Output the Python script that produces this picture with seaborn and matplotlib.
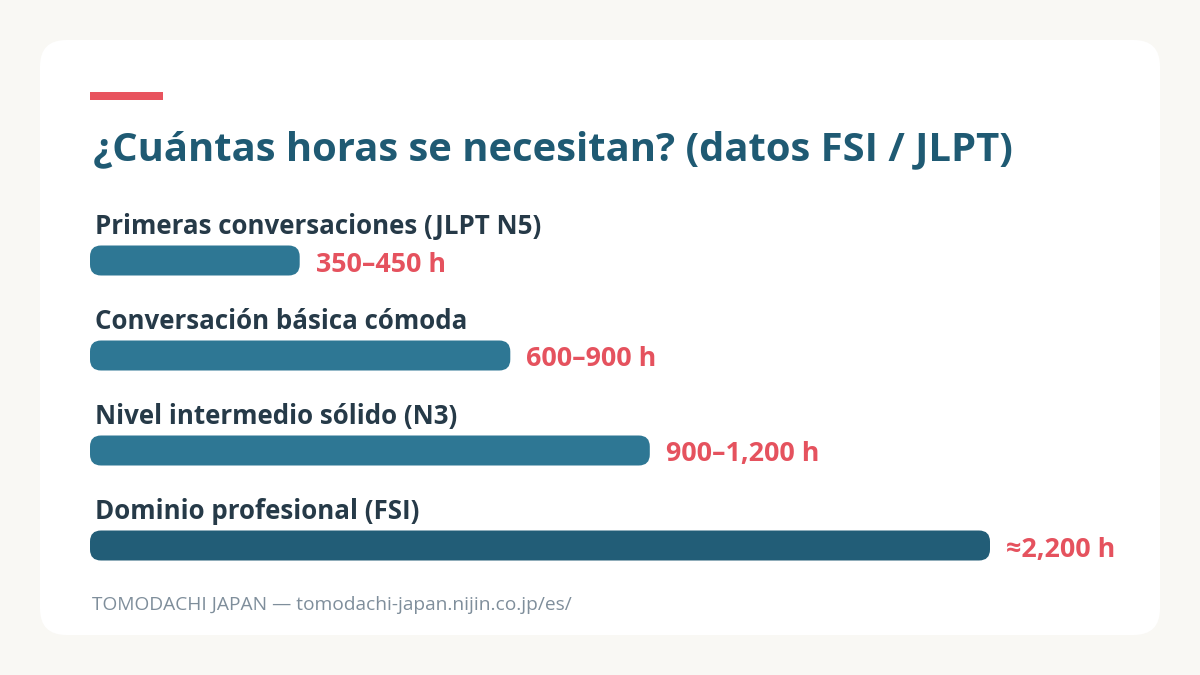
import matplotlib
matplotlib.use("Agg")
import matplotlib.pyplot as plt
from matplotlib.patches import FancyBboxPatch, Rectangle
import seaborn as sns
import pandas as pd

# ---- data ----
categories = [
    "Primeras conversaciones (JLPT N5)",
    "Conversación básica cómoda",
    "Nivel intermedio sólido (N3)",
    "Dominio profesional (FSI)",
]
value_labels = ["350–450 h", "600–900 h", "900–1,200 h", "≈2,200 h"]
bar_pct = [23.3, 46.7, 62.2, 100.0]   # bar length as % of the track
bar_colors = ["#2e7794", "#2e7794", "#2e7794", "#225d77"]
title = "¿Cuántas horas se necesitan? (datos FSI / JLPT)"
footer = "TOMODACHI JAPAN — tomodachi-japan.nijin.co.jp/es/"

W, H = 1200, 675
sns.set_theme(style="white")
plt.rcParams["font.family"] = ["Open Sans", "DejaVu Sans"]

fig = plt.figure(figsize=(W / 100, H / 100), dpi=100)
fig.patch.set_facecolor("#f9f8f4")

def fx(px):
    return px / W

def fy(py):
    return 1 - py / H

# white card
card = FancyBboxPatch((fx(40), fy(635)), fx(1120), 595 / H,
                      boxstyle="round,pad=0,rounding_size=0.022",
                      mutation_aspect=W / H,
                      transform=fig.transFigure, facecolor="white",
                      edgecolor="none", zorder=-5)
fig.patches.append(card)

# red accent
fig.patches.append(Rectangle((fx(90), fy(100)), fx(73), 8 / H,
                             transform=fig.transFigure, facecolor="#e8535e",
                             edgecolor="none", zorder=-4))

fig.text(fx(93), fy(150), title, fontsize=28.8, fontweight="bold",
         color="#1f5a73", va="center", ha="left")
fig.text(fx(92), fy(605), footer, fontsize=13.8, color="#7f8e9b",
         va="center", ha="left")

# axes: x 0..100 spans 90..990 px, category rows 95 px apart
row_px = 95
top_px = 260.5 - row_px / 2
ax = fig.add_axes([fx(90), fy(top_px + 4 * row_px), fx(900), 4 * row_px / H])
ax.set_facecolor("none")
ax.set_zorder(5)

df = pd.DataFrame({"cat": categories, "pct": bar_pct})
bar_h_px = 30
sns.barplot(data=df, y="cat", x="pct", hue="cat", palette=bar_colors,
            orient="h", width=bar_h_px / row_px, legend=False, ax=ax,
            saturation=1)
ax.set_xlim(0, 100)
ax.set_ylim(len(categories) - 0.5, -0.5)
ax.axis("off")

x_per_px = 100 / 900
y_per_px = 1 / row_px
for p in list(ax.patches):
    x0, y0, w, h = p.get_x(), p.get_y(), p.get_width(), p.get_height()
    col = p.get_facecolor()
    p.remove()
    ax.add_patch(FancyBboxPatch((x0, y0), w, h,
                                boxstyle=f"round,pad=0,rounding_size={11 * x_per_px}",
                                mutation_aspect=y_per_px / x_per_px,
                                facecolor=col, edgecolor="none", zorder=2,
                                clip_on=False))

for i, (cat, v, lab) in enumerate(zip(categories, bar_pct, value_labels)):
    ax.text(5 * x_per_px, i - 34 * y_per_px, cat, fontsize=18.6, fontweight="bold",
            color="#263a48", va="center", ha="left", clip_on=False)
    ax.text(v + 16 * x_per_px, i + 4 * y_per_px, lab, fontsize=19.4,
            fontweight="bold", color="#e5525e", va="center", ha="left",
            clip_on=False)

fig.savefig("out.png", dpi=100, facecolor=fig.get_facecolor())
